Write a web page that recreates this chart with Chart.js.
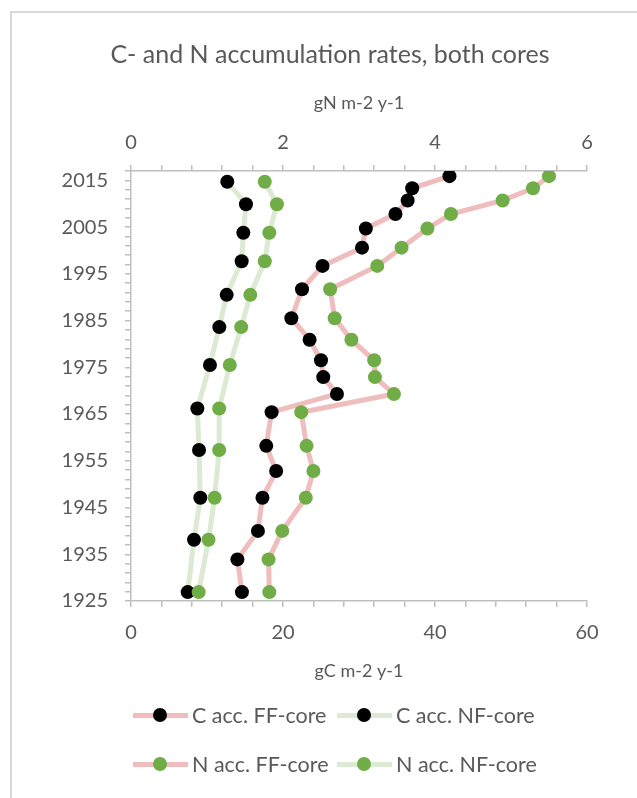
<!DOCTYPE html>
<html>
<head>
<meta charset="utf-8">
<title>C- and N accumulation rates</title>
<script src="https://cdn.jsdelivr.net/npm/chart.js@4.4.1/dist/chart.umd.min.js"></script>
<style>
    html, body { margin: 0; padding: 0; background: #fff; }
    #wrap { position: relative; width: 637px; height: 798px; overflow: hidden; }
    #frame {
        position: absolute; left: 10px; top: 11px; width: 700px; height: 900px;
        border-left: 2px solid #d9d9d9; border-top: 2px solid #d9d9d9;
    }
    #chart { position: absolute; left: 0; top: 0; }
    #legend {
        position: absolute; left: 133px; top: 700px;
        font-family: Lato, sans-serif; font-size: 21.5px; color: #595959;
        display: grid; grid-template-columns: 204px 220px; row-gap: 19px;
    }
    .item { display: flex; align-items: center; height: 30px; }
    .swatch { position: relative; width: 55px; height: 14px; margin-right: 4px; }
    .swatch .ln { position: absolute; left: 0; right: 0; top: 4.5px; height: 5px; }
    .swatch .dot { position: absolute; left: 20px; top: 0; width: 14px; height: 14px; border-radius: 50%; }
</style>
</head>
<body>
<div id="wrap">
    <div id="frame"></div>
    <canvas id="chart" width="637" height="798"></canvas>
    <div id="legend"></div>
</div>
<script>
// Sample years (dated core slices)
const ffYears = [2015.9, 2013.3, 2010.7, 2007.8, 2004.7, 2000.6, 1996.7, 1991.7, 1985.5, 1980.9,
                 1976.5, 1972.9, 1969.3, 1965.4, 1958.2, 1952.8, 1947.1, 1940.0, 1933.9, 1926.9];
const nfYears = [2014.7, 2009.9, 2003.8, 1997.7, 1990.5, 1983.6, 1975.5, 1966.2, 1957.3, 1947.1, 1938.1, 1926.9];

// Accumulation rates
const cAccFF = [41.9, 37.0, 36.4, 34.8, 30.9, 30.4, 25.2, 22.5, 21.1, 23.5,
                25.0, 25.3, 27.1, 18.5, 17.8, 19.1, 17.3, 16.7, 14.0, 14.6];   // gC m-2 y-1
const cAccNF = [12.67, 15.13, 14.78, 14.56, 12.59, 11.62, 10.39, 8.73, 8.95, 9.12, 8.29, 7.46];
const nAccFF = [5.50, 5.29, 4.89, 4.21, 3.90, 3.56, 3.24, 2.62, 2.68, 2.90,
                3.20, 3.21, 3.46, 2.24, 2.31, 2.40, 2.30, 1.99, 1.81, 1.82];    // gN m-2 y-1
const nAccNF = [1.76, 1.92, 1.82, 1.76, 1.57, 1.45, 1.30, 1.16, 1.16, 1.10, 1.02, 0.89];

// Axis ranges and ticks
const yearMin = 1925, yearMax = 2017, yearMinor = 2, yearMajor = 10;
const cMax = 60, cMinor = 4, cMajor = 20;
const nMax = 6, nMinor = 0.4, nMajor = 2;

const seriesLabels = ['C acc. FF-core', 'C acc. NF-core', 'N acc. FF-core', 'N acc. NF-core'];

const TEXT = '#595959';
const AXIS = '#bfbfbf';
const FF_LINE = '#efbdbd';
const NF_LINE = '#dce9d3';
const BLACK = '#000000';
const GREEN = '#70ad47';
const FONT = 'Lato, "Open Sans", sans-serif';

function toPoints(years, values) {
    return years.map((y, i) => ({ x: values[i], y: y }));
}

function makeSeries(label, years, values, lineColor, dotColor, axis) {
    return {
        label: label,
        data: toPoints(years, values),
        xAxisID: axis,
        yAxisID: 'y',
        showLine: true,
        borderColor: lineColor,
        borderWidth: 5,
        tension: 0,
        pointRadius: 7,
        pointHoverRadius: 7,
        pointBorderWidth: 0,
        pointBackgroundColor: dotColor,
        pointBorderColor: dotColor
    };
}

// only label every major step, minor steps keep their tick mark
function majorOnly(step) {
    return function(value) {
        const r = value / step;
        return Math.abs(r - Math.round(r)) < 1e-6 ? String(Math.round(value * 10) / 10) : '';
    };
}

const datasets = [
    makeSeries(seriesLabels[0], ffYears, cAccFF, FF_LINE, BLACK, 'x'),
    makeSeries(seriesLabels[1], nfYears, cAccNF, NF_LINE, BLACK, 'x'),
    makeSeries(seriesLabels[2], ffYears, nAccFF, FF_LINE, GREEN, 'x2'),
    makeSeries(seriesLabels[3], nfYears, nAccNF, NF_LINE, GREEN, 'x2')
];
// later series on top
datasets.forEach((d, i) => { d.order = datasets.length - i; });

const tickFont = { family: FONT, size: 20 };
const titleFont = { family: FONT, size: 18 };

const chart = new Chart(document.getElementById('chart'), {
    type: 'scatter',
    data: { datasets: datasets },
    options: {
        responsive: false,
        animation: false,
        devicePixelRatio: 1,
        layout: { padding: { left: 45, right: 22, top: 0, bottom: 116 } },
        plugins: {
            legend: { display: false },
            tooltip: { enabled: false },
            title: {
                display: true,
                text: 'C- and N accumulation rates, both cores',
                color: TEXT,
                font: { family: FONT, size: 25, weight: 'normal' },
                padding: { top: 40, bottom: 0 }
            }
        },
        scales: {
            x: {
                type: 'linear',
                position: 'bottom',
                min: 0,
                max: cMax,
                border: { color: AXIS, width: 1.5 },
                grid: { drawOnChartArea: false, color: AXIS, tickLength: 6, lineWidth: 1.5 },
                ticks: {
                    stepSize: cMinor,
                    autoSkip: false,
                    maxRotation: 0,
                    padding: 14,
                    color: TEXT,
                    font: tickFont,
                    callback: majorOnly(cMajor)
                },
                title: {
                    display: true,
                    text: 'gC m-2 y-1',
                    color: TEXT,
                    font: titleFont,
                    padding: { top: 0, bottom: 0 }
                },
                afterFit: function(scale) { scale.height = 81; }
            },
            x2: {
                type: 'linear',
                position: 'top',
                min: 0,
                max: nMax,
                border: { color: AXIS, width: 1.5 },
                grid: { drawOnChartArea: false, color: AXIS, tickLength: 6, lineWidth: 1.5 },
                ticks: {
                    stepSize: nMinor,
                    autoSkip: false,
                    maxRotation: 0,
                    padding: 10,
                    color: TEXT,
                    font: tickFont,
                    callback: majorOnly(nMajor)
                },
                title: {
                    display: true,
                    text: 'gN m-2 y-1',
                    color: TEXT,
                    font: titleFont,
                    padding: { top: 22, bottom: 0 }
                },
                afterFit: function(scale) { scale.height = 101; }
            },
            y: {
                type: 'linear',
                position: 'left',
                min: yearMin,
                max: yearMax,
                border: { color: AXIS, width: 1.5 },
                grid: { drawOnChartArea: false, color: AXIS, tickLength: 6, lineWidth: 1.5 },
                ticks: {
                    stepSize: yearMinor,
                    autoSkip: false,
                    padding: 17,
                    color: TEXT,
                    font: tickFont,
                    callback: function(value) {
                        return (value - yearMin) % yearMajor === 0 ? String(value) : '';
                    }
                },
                afterFit: function(scale) { scale.width = 86; }
            },
            // empty spacer on the right so the plot ends where the title box is centred
            yPad: {
                type: 'linear',
                position: 'right',
                grid: { display: false, drawTicks: false },
                border: { display: false },
                ticks: { display: false },
                afterFit: function(scale) { scale.width = 28; }
            }
        }
    }
});

// Legend: line with the series marker in the middle, two per row
function buildLegend() {
    const box = document.getElementById('legend');
    chart.data.datasets.forEach(ds => {
        const item = document.createElement('div');
        item.className = 'item';
        item.innerHTML =
            '<span class="swatch"><span class="ln" style="background:' + ds.borderColor + '"></span>' +
            '<span class="dot" style="background:' + ds.pointBackgroundColor + '"></span></span>' +
            '<span>' + ds.label + '</span>';
        box.appendChild(item);
    });
}

buildLegend();
</script>
</body>
</html>
